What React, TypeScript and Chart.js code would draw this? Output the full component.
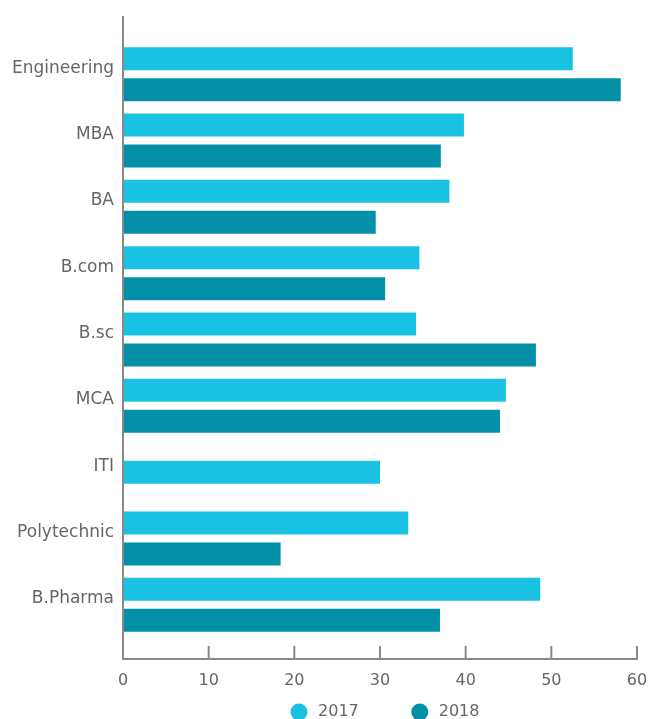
import React, { useEffect, useRef } from "react";
import { Chart, registerables } from "chart.js";

Chart.register(...registerables);

const categories = ["Engineering", "MBA", "BA", "B.com", "B.sc", "MCA", "ITI", "Polytechnic", "B.Pharma"];
const values2017 = [52.5, 39.8, 38.1, 34.6, 34.2, 44.7, 30.0, 33.3, 48.7];
const values2018 = [58.1, 37.1, 29.5, 30.6, 48.2, 44.0, null, 18.4, 37.0];
const seriesNames = ["2017", "2018"];
const seriesColors = ["#19c2e3", "#0190a8"];
const xMin = 0;
const xMax = 60;
const xStep = 10;

const FONT = "'DejaVu Sans', sans-serif";
const TEXT = "#666666";
const AXIS = "#8a8a8a";

const axisPlugin = {
  id: "customAxes",
  afterDatasetsDraw(chart: any) {
    const { ctx, chartArea, scales } = chart;
    const xs = scales.x;
    const yBase = chartArea.bottom + 21;
    ctx.save();
    ctx.strokeStyle = AXIS;
    ctx.lineWidth = 2;
    ctx.beginPath();
    ctx.moveTo(chartArea.left, chartArea.top - 25);
    ctx.lineTo(chartArea.left, yBase);
    ctx.moveTo(chartArea.left - 1, yBase);
    ctx.lineTo(chartArea.right + 1, yBase);
    xs.ticks.forEach((t: any) => {
      const px = xs.getPixelForValue(t.value);
      ctx.moveTo(px, yBase);
      ctx.lineTo(px, yBase - 13);
    });
    ctx.stroke();
    ctx.restore();
  },
};

const legendPlugin = {
  id: "circleLegend",
  afterDraw(chart: any) {
    const { ctx, chartArea } = chart;
    const r = 8.5;
    const circleToText = 19;
    const between = 52.5;
    ctx.save();
    ctx.font = `16px ${FONT}`;
    ctx.textBaseline = "middle";
    ctx.textAlign = "left";
    const items = chart.data.datasets.map((ds: any) => ({
      text: String(ds.label),
      color: ds.backgroundColor,
      w: r + circleToText + ctx.measureText(String(ds.label)).width,
    }));
    const total = items.reduce((a: number, it: any) => a + it.w, 0) + between * (items.length - 1);
    const cx = (chartArea.left + chartArea.right) / 2 + 5;
    const y = 712;
    let x = cx - total / 2;
    items.forEach((it: any) => {
      ctx.fillStyle = it.color;
      ctx.beginPath();
      ctx.arc(x + r, y, r, 0, Math.PI * 2);
      ctx.fill();
      ctx.fillStyle = TEXT;
      ctx.fillText(it.text, x + r + circleToText, y);
      x += it.w + between;
    });
    ctx.restore();
  },
};

export default function App() {
  const ref = useRef<HTMLCanvasElement | null>(null);

  useEffect(() => {
    if (!ref.current) return;
    const chart = new Chart(ref.current, {
      type: "bar",
      data: {
        labels: categories,
        datasets: [
          {
            label: seriesNames[0],
            data: values2017,
            backgroundColor: seriesColors[0],
            borderWidth: 0,
          },
          {
            label: seriesNames[1],
            data: values2018 as any,
            backgroundColor: seriesColors[1],
            borderWidth: 0,
          },
        ],
      },
      options: {
        indexAxis: "y",
        animation: false,
        responsive: true,
        maintainAspectRatio: false,
        datasets: {
          bar: {
            categoryPercentage: 0.934,
            barPercentage: 0.742,
            maxBarThickness: 23,
            skipNull: true,
          },
        },
        layout: { padding: { top: 41, right: 15, left: 0, bottom: 21 } },
        scales: {
          x: {
            type: "linear",
            min: xMin,
            max: xMax,
            grid: { display: false, drawTicks: false },
            border: { display: false },
            ticks: {
              stepSize: xStep,
              padding: 33,
              color: TEXT,
              font: { family: FONT, size: 16 },
            },
            afterFit: (s: any) => {
              s.height = 60;
              s.paddingLeft = 0;
              s.paddingRight = 0;
            },
          },
          y: {
            type: "category",
            grid: { display: false, drawTicks: false },
            border: { display: false },
            ticks: {
              padding: 9,
              labelOffset: -6,
              color: TEXT,
              font: { family: FONT, size: 17 },
            },
            afterFit: (s: any) => {
              s.width = 123;
            },
          },
        },
        plugins: {
          legend: { display: false },
          tooltip: { enabled: false },
        },
      },
      plugins: [axisPlugin, legendPlugin],
    } as any);
    return () => chart.destroy();
  }, []);

  return (
    <div style={{ position: "fixed", left: 0, top: 0, width: 652, height: 719, background: "#fff" }}>
      <canvas ref={ref} style={{ width: "100%", height: "100%" }} />
    </div>
  );
}
